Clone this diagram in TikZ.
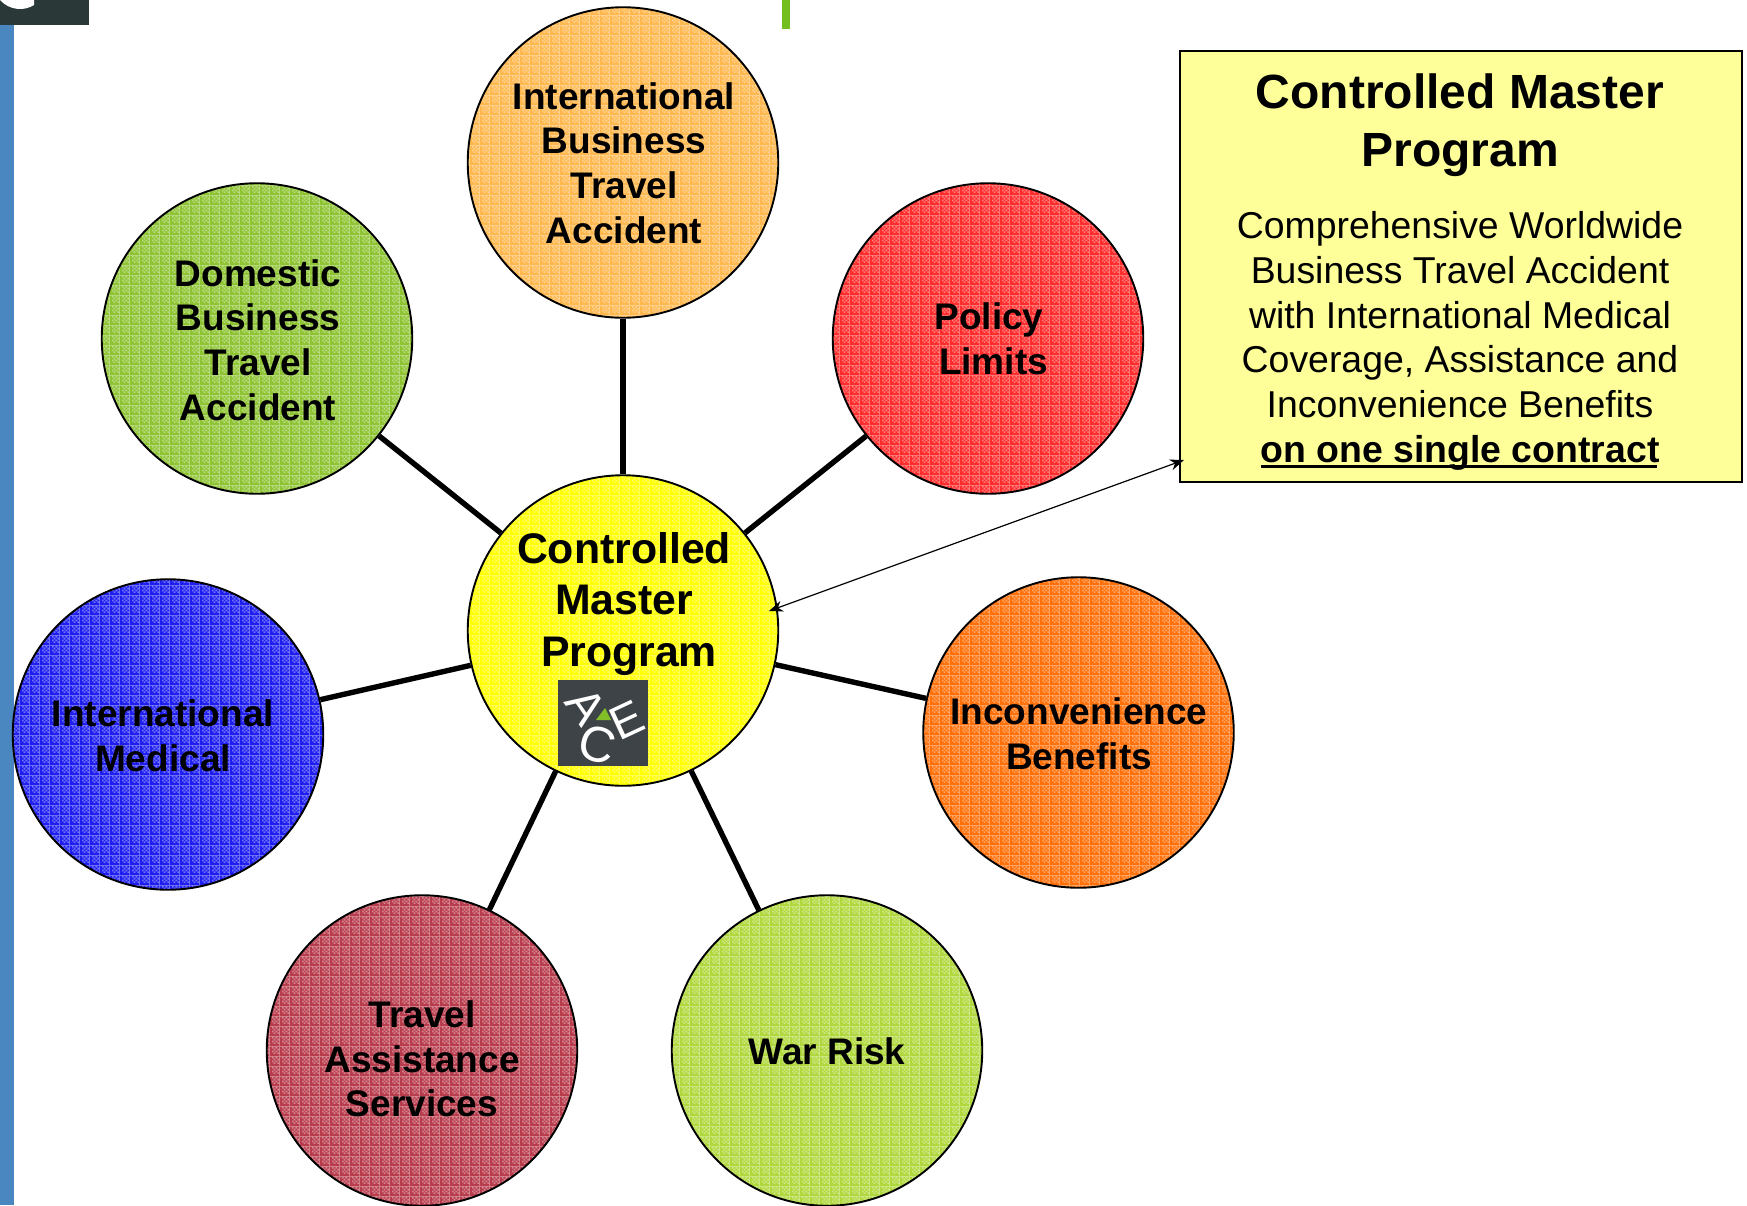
\documentclass[tikz,border=0pt]{standalone}
\usepackage{fontspec}
\setmainfont{Liberation Sans}
\usetikzlibrary{arrows.meta,patterns}
\pgfdeclarepatternformonly{meshp}{\pgfpoint{0pt}{0pt}}{\pgfpoint{10pt}{10pt}}{\pgfpoint{10pt}{10pt}}{%
  \pgfpathrectangle{\pgfpoint{0pt}{0pt}}{\pgfpoint{10pt}{2pt}}%
  \pgfpathrectangle{\pgfpoint{0pt}{2pt}}{\pgfpoint{2pt}{8pt}}%
  \pgfpathrectangle{\pgfpoint{2pt}{2pt}}{\pgfpoint{2pt}{2pt}}%
  \pgfpathrectangle{\pgfpoint{6pt}{2pt}}{\pgfpoint{2pt}{2pt}}%
  \pgfpathrectangle{\pgfpoint{4pt}{4pt}}{\pgfpoint{2pt}{2pt}}%
  \pgfpathrectangle{\pgfpoint{8pt}{4pt}}{\pgfpoint{2pt}{2pt}}%
  \pgfpathrectangle{\pgfpoint{2pt}{6pt}}{\pgfpoint{2pt}{2pt}}%
  \pgfpathrectangle{\pgfpoint{6pt}{6pt}}{\pgfpoint{2pt}{2pt}}%
  \pgfpathrectangle{\pgfpoint{4pt}{8pt}}{\pgfpoint{2pt}{2pt}}%
  \pgfpathrectangle{\pgfpoint{8pt}{8pt}}{\pgfpoint{2pt}{2pt}}%
  \pgfusepath{fill}}
\definecolor{cOrange}{HTML}{FFB84E}
\definecolor{cRed}{HTML}{FF2C2C}
\definecolor{cGreen}{HTML}{8EC432}
\definecolor{cBlue}{HTML}{1E1EF0}
\definecolor{cDeep}{HTML}{FF7008}
\definecolor{cLime}{HTML}{B0D83C}
\definecolor{cWine}{HTML}{B83C4C}
\definecolor{cYel}{HTML}{FFFF00}
\definecolor{cBox}{HTML}{FFFF99}
\definecolor{cSlate}{HTML}{3E4348}
\definecolor{cBar}{HTML}{4A87C0}
\definecolor{cDark}{HTML}{2A3838}
\definecolor{cLeaf}{HTML}{74BE1E}
\definecolor{cTri}{HTML}{82BE28}
\tikzset{
  x=1pt,y=-1pt,
  bub/.style={circle,draw=black,line width=1.9pt,minimum size=310.5pt,inner sep=0pt,
    preaction={fill=#1!62!white},pattern=meshp,pattern color=#1},
  bubtext/.style={font=\bfseries\fontsize{37}{44.6}\selectfont,align=center},
  spoke/.style={line width=5.4pt,black},
  dblarrow/.style={line width=1.2pt,{Stealth[length=14pt,width=11pt]}-{Stealth[length=14pt,width=11pt]}},
}
\begin{document}
\begin{tikzpicture}
\useasboundingbox (0,0) rectangle (1747,1205);
\fill[white] (0,0) rectangle (1747,1205);
\fill[cBar] (0,0) rectangle (14,1205);
\fill[cDark] (0,0) rectangle (89,25);
\fill[white] (0,0) .. controls (10,11) and (25,11) .. (34,5) -- (34,0) -- cycle;
\fill[cLeaf] (782,0) rectangle (790,29);

\node[bub=cYel] (hub) at (623,630.5) {};
\node[bub=cOrange] (iba) at (623,162.5) {};
\node[bub=cRed] (pol) at (988,338.5) {};
\node[bub=cGreen] (dom) at (257,338.5) {};
\node[bub=cBlue] (med) at (168,734.5) {};
\node[bub=cDeep] (inc) at (1078.5,732.5) {};
\node[bub=cLime] (war) at (827,1050.5) {};
\node[bub=cWine] (tas) at (422,1050.5) {};

\draw[spoke] (hub)--(iba);
\draw[spoke] (hub)--(pol);
\draw[spoke] (hub)--(dom);
\draw[spoke] (hub)--(med);
\draw[spoke] (hub)--(inc);
\draw[spoke] (hub)--(war);
\draw[spoke] (hub)--(tas);

\node[bubtext] (tiba) at (624,163) {International\\Business\\Travel\\Accident};
\node[bubtext] (tpol) at (989,339) {Policy\\\hspace*{9pt}Limits};
\node[bubtext] (tdom) at (258,340) {Domestic\\Business\\Travel\\Accident};
\node[bubtext] (tmed) at (163,735.5) {International\\Medical};
\node[bubtext] (tinc) at (1079,733.5) {Inconvenience\\Benefits};
\node[bubtext] (twar) at (827,1051) {War Risk};
\node[bubtext] (ttas) at (422,1059) {Travel\\Assistance\\Services};
\node[font=\bfseries\fontsize{42.8}{51.5}\selectfont,align=center] (thub) at (624,604) {Controlled\\Master\\\hspace*{10pt}Program};

\node[fill=cSlate,minimum width=90pt,minimum height=86pt,inner sep=0pt] (logo) at (603,723) {};
\node[white,font=\fontsize{48}{48}\selectfont,rotate=-55,inner sep=0pt] (la) at (586,706) {A};
\node[white,font=\fontsize{47}{47}\selectfont,rotate=25,inner sep=0pt] (le) at (627,720) {E};
\node[white,font=\fontsize{50}{50}\selectfont,rotate=-15,inner sep=0pt] (lc) at (597,745) {C};
\fill[cTri] (596,720) -- (605,708) -- (611,720) -- cycle;

\node[draw=black,line width=1.9pt,fill=cBox,minimum width=562pt,minimum height=431pt,anchor=north west,inner sep=0pt] (box) at (1179,50) {};
\coordinate (bp) at (1184,460);
\coordinate (hp) at (769,611);
\draw[dblarrow] (hp)--(bp);
\node[font=\bfseries\fontsize{48}{58}\selectfont,align=center] (bt) at (1460,125) {Controlled Master\\Program};
\node[font=\fontsize{37.4}{44.7}\selectfont,align=center,anchor=north] (bb) at (1460,208) {Comprehensive Worldwide\\Business Travel Accident\\with International Medical\\Coverage, Assistance and\\Inconvenience Benefits\\{\bfseries\rlap{\smash{\rule[-6pt]{396pt}{3.5pt}}}on one single contract}};
\end{tikzpicture}
\end{document}
